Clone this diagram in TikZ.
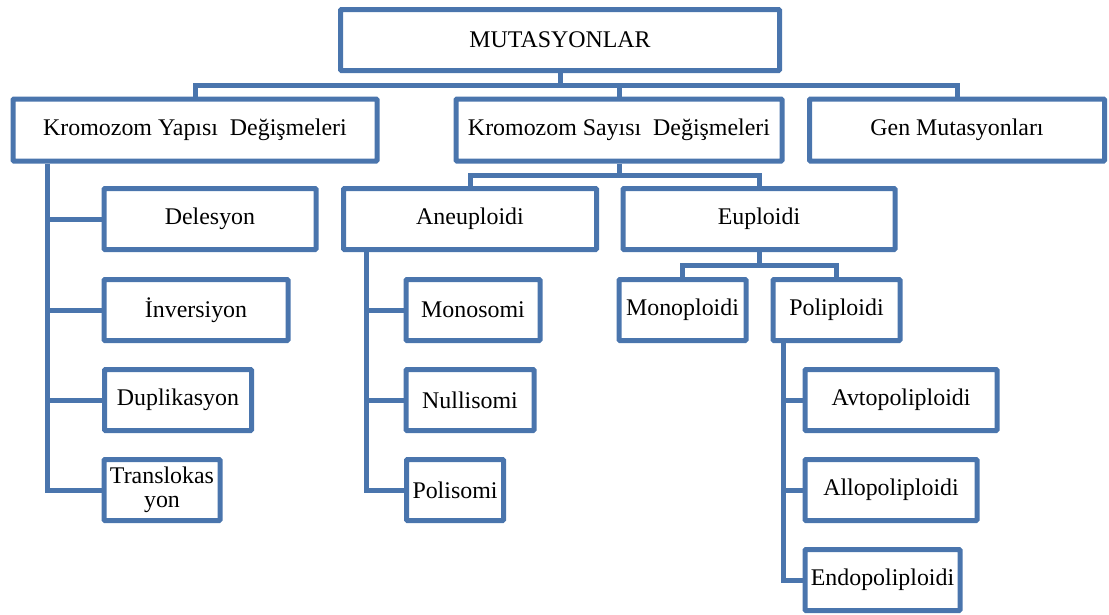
\documentclass[tikz,border=0pt]{standalone}
\usepackage{fontspec}
\setmainfont{Liberation Serif}
\definecolor{boxblue}{RGB}{74,117,173}
\begin{document}
\begin{tikzpicture}[x=1pt,y=-1pt,
  box/.style={draw=boxblue, line width=5pt, rectangle, rounded corners=1pt,
    inner sep=0pt, align=center, minimum height=61pt,
    font=\fontsize{23.9}{24}\selectfont, text=black},
  conn/.style={draw=boxblue, line width=5pt}]
\useasboundingbox (0,0) rectangle (1109,614);
% nodes
\node[box, minimum width=439pt, minimum height=61pt] (root) at (560,40) {MUTASYONLAR};
\node[box, minimum width=364pt, minimum height=62pt] (kyd) at (195,130) {Kromozom Yapısı\ \ Değişmeleri};
\node[box, minimum width=326pt, minimum height=62pt] (ksd) at (619,130) {Kromozom Sayısı\ \ Değişmeleri};
\node[box, minimum width=295pt, minimum height=62pt] (gen) at (957,130) {Gen Mutasyonları};
\node[box, minimum width=212pt] (del) at (210,219) {Delesyon};
\node[box, minimum width=184pt] (inv) at (196,310) {İnversiyon};
\node[box, minimum width=147pt] (dup) at (178,400) {Duplikasyon};
\node[box, minimum width=116pt] (tr) at (162,490) {Translokas\\yon};
\node[box, minimum width=253pt] (ane) at (470,219) {Aneuploidi};
\node[box, minimum width=272pt] (eup) at (759,219) {Euploidi};
\node[box, minimum width=134pt] (mono) at (473,310) {Monosomi};
\node[box, minimum width=128pt] (null) at (470,400) {Nullisomi};
\node[box, minimum width=97pt] (poli) at (455,490) {Polisomi};
\node[box, minimum width=127pt] (monop) at (682.5,310) {Monoploidi};
\node[box, minimum width=127pt] (polip) at (836.5,310) {Poliploidi};
\node[box, minimum width=192pt] (avto) at (901,400) {Avtopoliploidi};
\node[box, minimum width=172pt] (allo) at (891,490) {Allopoliploidi};
\node[box, minimum width=155pt] (endo) at (882.5,580) {Endopoliploidi};
% connectors
\coordinate (b0) at (560,85);
\draw[conn] (root.south) -- (b0);
\draw[conn] (kyd.north) |- (b0) -| (gen.north);
\draw[conn] (ksd.north) -- (ksd.north |- b0);
\coordinate (b1) at (619,175);
\draw[conn] (ksd.south) -- (b1);
\draw[conn] (ane.north) |- (b1) -| (eup.north);
\coordinate (b2) at (759,265);
\draw[conn] (eup.south) -- (b2);
\draw[conn] (monop.north) |- (b2) -| (polip.north);
% trunks
\coordinate (t1) at ([xshift=37pt]kyd.south west);
\draw[conn] (t1) |- (tr.west);
\foreach \n in {del,inv,dup} \draw[conn] (\n.west) -- (\n.west -| t1);
\coordinate (t2) at ([xshift=25pt]ane.south west);
\draw[conn] (t2) |- (poli.west);
\foreach \n in {mono,null} \draw[conn] (\n.west) -- (\n.west -| t2);
\coordinate (t3) at ([xshift=13pt]polip.south west);
\draw[conn] (t3) |- (endo.west);
\foreach \n in {avto,allo} \draw[conn] (\n.west) -- (\n.west -| t3);
\end{tikzpicture}
\end{document}
